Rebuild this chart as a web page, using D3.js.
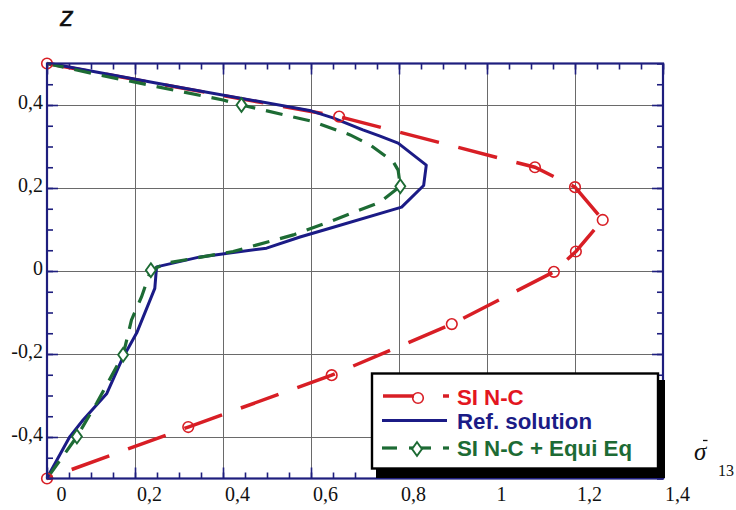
<!DOCTYPE html>
<html><head><meta charset="utf-8">
<script src="https://cdn.jsdelivr.net/npm/d3@7/dist/d3.min.js"></script>
<style>body{margin:0;background:#fff;} svg{display:block;}</style>
</head><body>
<svg id="c" width="736" height="510"></svg>
<script>
// ---- data ----
const xTicks = [0, 0.2, 0.4, 0.6, 0.8, 1, 1.2, 1.4];
const zTicks = [-0.4, -0.2, 0, 0.2, 0.4];
const xMinor = d3.range(0, 1.4001, 0.05);
const zMinor = d3.range(-0.5, 0.5001, 0.05);

const sincX = [0, 0.664, 1.109, 1.2, 1.263, 1.202, 1.152, 0.92, 0.647, 0.321, 0];
const sincZ = [0.5, 0.372, 0.25, 0.202, 0.123, 0.047, -0.002, -0.128, -0.251, -0.376, -0.5];

const refX = [0.007, 0.3, 0.6, 0.65, 0.718, 0.757, 0.798, 0.862, 0.856, 0.806, 0.643, 0.575, 0.499, 0.348, 0.249, 0.245, 0.204, 0.17, 0.136, 0.082, 0.052, 0];
const refZ = [0.5, 0.443, 0.386, 0.369, 0.34, 0.325, 0.308, 0.255, 0.206, 0.154, 0.103, 0.082, 0.055, 0.034, 0.01, -0.042, -0.149, -0.214, -0.295, -0.359, -0.399, -0.499];

const equiX = [0, 0.12, 0.4, 0.442, 0.605, 0.689, 0.734, 0.787, 0.798, 0.803, 0.757, 0.643, 0.56, 0.423, 0.272, 0.236, 0.215, 0.192, 0.173, 0.113, 0.068, 0];
const equiZ = [0.5, 0.472, 0.412, 0.4, 0.36, 0.328, 0.304, 0.263, 0.243, 0.204, 0.166, 0.119, 0.087, 0.047, 0.019, 0.002, -0.062, -0.118, -0.202, -0.318, -0.399, -0.5];
const equiMarkX = [0.442, 0.803, 0.236, 0.173, 0.068];
const equiMarkZ = [0.4, 0.204, 0.002, -0.202, -0.399];

const legendLabels = [["SI", "N-C"], ["Ref. solution"], ["SI", "N-C + Equi Eq"]];

// ---- styles ----
const RED = "#d81e25", NAVY = "#1b1b86", GREEN = "#1d6b34", FRAME = "#1e1e7e", GRID = "#6a6a6a";

const svg = d3.select("#c");
const L = 47, R = 663, T = 63.5, B = 478.5;
const x = d3.scaleLinear().domain([0, 1.4]).range([L, R]);
const y = d3.scaleLinear().domain([-0.5, 0.5]).range([B, T]);
const fmt = d => d === 0 ? "0" : String(d).replace(".", ",");

// gridlines
svg.append("g").attr("transform", `translate(0,${B})`)
  .call(d3.axisBottom(x).tickValues(xTicks.slice(1, -1)).tickSize(-(B - T)).tickFormat(""))
  .call(g => g.select(".domain").remove())
  .selectAll("line").attr("stroke", GRID).attr("stroke-width", 1);
svg.append("g").attr("transform", `translate(${L},0)`)
  .call(d3.axisLeft(y).tickValues(zTicks).tickSize(-(R - L)).tickFormat(""))
  .call(g => g.select(".domain").remove())
  .selectAll("line").attr("stroke", GRID).attr("stroke-width", 1);

// ticks on four sides (inward)
function ticks(axisFn, scale, vals, size, tr) {
  svg.append("g").attr("transform", tr)
    .call(axisFn(scale).tickValues(vals).tickSize(size).tickFormat(""))
    .call(g => g.select(".domain").remove())
    .selectAll("line").attr("stroke", FRAME).attr("stroke-width", 1.6);
}
ticks(d3.axisBottom, x, xMinor, -6, `translate(0,${B})`);
ticks(d3.axisBottom, x, xTicks, -11, `translate(0,${B})`);
ticks(d3.axisTop, x, xMinor, -6, `translate(0,${T})`);
ticks(d3.axisTop, x, xTicks, -11, `translate(0,${T})`);
ticks(d3.axisLeft, y, zMinor, -6, `translate(${L},0)`);
ticks(d3.axisLeft, y, zTicks, -11, `translate(${L},0)`);
ticks(d3.axisRight, y, zMinor, -6, `translate(${R},0)`);
ticks(d3.axisRight, y, zTicks, -11, `translate(${R},0)`);

// tick labels
const xl = svg.append("g").attr("transform", `translate(0,${B})`)
  .call(d3.axisBottom(x).tickValues(xTicks).tickSize(0).tickFormat(fmt));
xl.select(".domain").remove();
xl.selectAll("text").attr("font-family", "Liberation Serif, Times New Roman, serif")
  .attr("font-size", 20).attr("fill", "#111").attr("dx", 14).attr("y", 22).attr("dy", 0);
const yl = svg.append("g").attr("transform", `translate(${L},0)`)
  .call(d3.axisLeft(y).tickValues(zTicks).tickSize(0).tickFormat(fmt));
yl.select(".domain").remove();
yl.selectAll("text").attr("font-family", "Liberation Serif, Times New Roman, serif")
  .attr("font-size", 20).attr("fill", "#111").attr("x", -4).attr("dy", 3);

// curves
const line = d3.line().x(d => x(d[0])).y(d => y(d[1]));
const sincPts = sincX.map((v, i) => [v, sincZ[i]]);
const refPts = refX.map((v, i) => [v, refZ[i]]);
const equiPts = equiX.map((v, i) => [v, equiZ[i]]);
const equiMarks = equiMarkX.map((v, i) => [v, equiMarkZ[i]]);

svg.append("path").attr("d", line(sincPts)).attr("fill", "none").attr("stroke", RED)
  .attr("stroke-width", 3.5).attr("stroke-dasharray", "40,20");
svg.append("path").attr("d", line(refPts)).attr("fill", "none").attr("stroke", NAVY)
  .attr("stroke-width", 3).attr("stroke-linejoin", "round");
svg.append("path").attr("d", line(equiPts)).attr("fill", "none").attr("stroke", GREEN)
  .attr("stroke-width", 3.2).attr("stroke-dasharray", "17,11");

svg.append("g").selectAll("circle").data(sincPts).join("circle")
  .attr("cx", d => x(d[0])).attr("cy", d => y(d[1])).attr("r", 5.3)
  .attr("fill", "none").attr("stroke", RED).attr("stroke-width", 1.6);
const diamond = d3.symbol().type(d3.symbolDiamond).size(55);
svg.append("g").selectAll("path").data(equiMarks).join("path")
  .attr("d", diamond).attr("transform", d => `translate(${x(d[0])},${y(d[1])}) scale(1.25,1)`)
  .attr("fill", "#fff").attr("stroke", GREEN).attr("stroke-width", 1.6);

// frame
svg.append("rect").attr("x", L).attr("y", T).attr("width", R - L).attr("height", B - T)
  .attr("fill", "none").attr("stroke", FRAME).attr("stroke-width", 2.2);

// legend
const lg = svg.append("g");
lg.append("rect").attr("x", 376).attr("y", 380).attr("width", 289).attr("height", 98).attr("fill", "#000");
lg.append("rect").attr("x", 372).attr("y", 373.5).attr("width", 286).attr("height", 95)
  .attr("fill", "#fff").attr("stroke", "#000").attr("stroke-width", 2.4);
const rows = [397, 420.5, 448];
// row 1
lg.append("line").attr("x1", 383).attr("x2", 414).attr("y1", rows[0] - 1).attr("y2", rows[0] - 1).attr("stroke", RED).attr("stroke-width", 3.5);
lg.append("circle").attr("cx", 418).attr("cy", rows[0] + 1).attr("r", 5.3).attr("fill", "none").attr("stroke", RED).attr("stroke-width", 1.6);
lg.append("line").attr("x1", 443).attr("x2", 449).attr("y1", rows[0] - 1).attr("y2", rows[0] - 1).attr("stroke", RED).attr("stroke-width", 3.5);
// row 2
lg.append("line").attr("x1", 382).attr("x2", 447).attr("y1", rows[1]).attr("y2", rows[1]).attr("stroke", NAVY).attr("stroke-width", 3);
// row 3
lg.append("line").attr("x1", 382).attr("x2", 397).attr("y1", rows[2]).attr("y2", rows[2]).attr("stroke", GREEN).attr("stroke-width", 3.2);
lg.append("line").attr("x1", 409).attr("x2", 431).attr("y1", rows[2]).attr("y2", rows[2]).attr("stroke", GREEN).attr("stroke-width", 3.2);
lg.append("path").attr("d", diamond).attr("transform", `translate(417,${rows[2] + 1}) scale(1.25,1)`)
  .attr("fill", "#fff").attr("stroke", GREEN).attr("stroke-width", 1.6);
lg.append("line").attr("x1", 443).attr("x2", 449).attr("y1", rows[2]).attr("y2", rows[2]).attr("stroke", GREEN).attr("stroke-width", 3.2);
const lcol = ["#e3161f", NAVY, GREEN];
const lt = lg.selectAll("text").data(legendLabels).join("text")
  .attr("x", 457).attr("y", (d, i) => rows[i] + 8)
  .attr("font-family", "Liberation Sans, Arial, sans-serif").attr("font-weight", "bold")
  .attr("font-size", 22.3).attr("fill", (d, i) => lcol[i]);
lt.selectAll("tspan").data(d => d).join("tspan")
  .attr("dx", (d, i) => i > 0 ? 6 : 0).text(d => d);

// axis titles
svg.append("text").attr("x", 60).attr("y", 26).attr("font-family", "Liberation Sans, Arial, sans-serif")
  .attr("font-style", "italic").attr("font-size", 27).attr("stroke", "#111").attr("stroke-width", 0.4)
  .attr("fill", "#111").text("z");
svg.append("text").attr("x", 694).attr("y", 460).attr("font-family", "Liberation Serif, Times New Roman, serif")
  .attr("font-style", "italic").attr("font-size", 25).attr("fill", "#111").text("σ");
svg.append("line").attr("x1", 703).attr("x2", 707.5).attr("y1", 440.5).attr("y2", 440.5)
  .attr("stroke", "#111").attr("stroke-width", 1.3);
svg.append("text").attr("x", 718).attr("y", 476).attr("font-family", "Liberation Serif, Times New Roman, serif")
  .attr("font-size", 16).attr("fill", "#111").text("13");
</script>
</body></html>
